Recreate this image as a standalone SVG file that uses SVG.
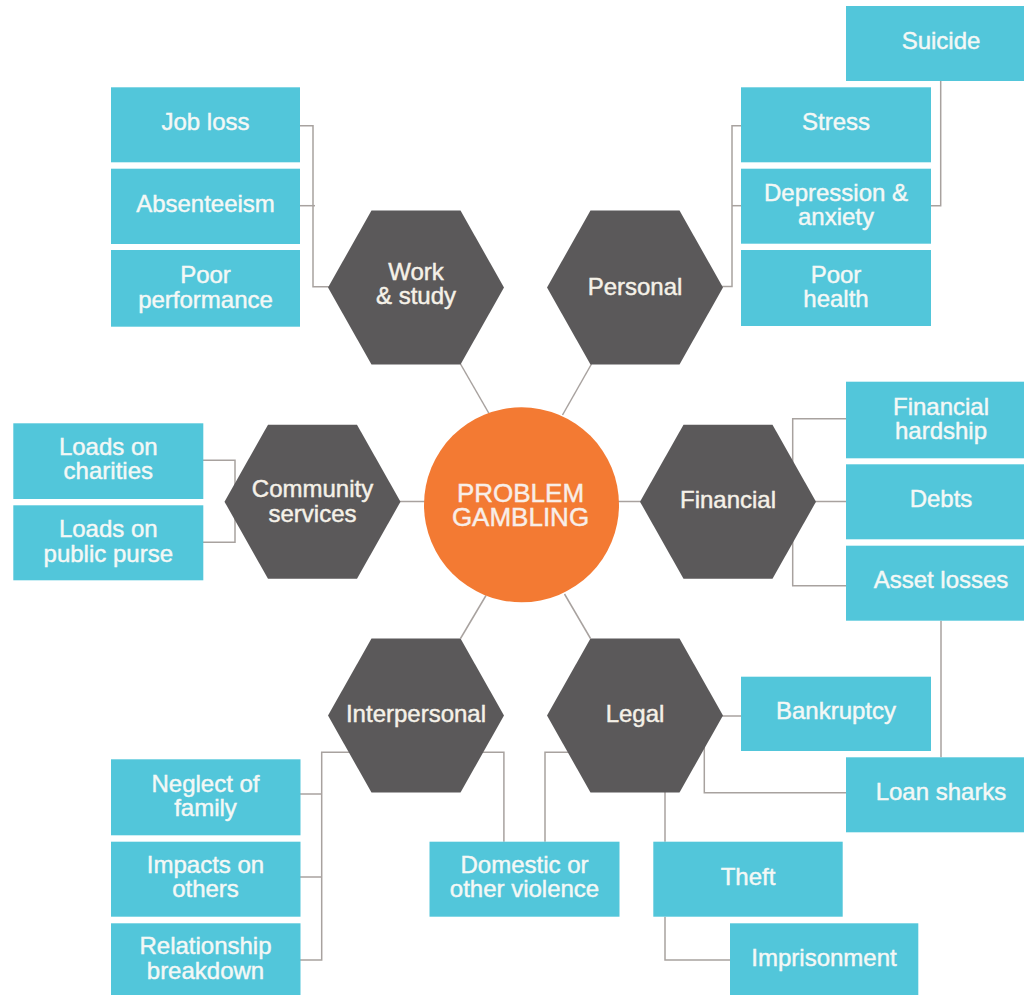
<svg xmlns="http://www.w3.org/2000/svg" width="1024" height="995" viewBox="0 0 1024 995">
<style>
.box{fill:#52C6DA}
.hex{fill:#5B595A}
.bt{font-family:"Liberation Sans",Arial,sans-serif;font-size:24px;fill:#F4F8F6;stroke:#F4F8F6;stroke-width:0.45;text-anchor:middle}
.ht{font-family:"Liberation Sans",Arial,sans-serif;font-size:24px;fill:#F5F1E8;stroke:#F5F1E8;stroke-width:0.45;text-anchor:middle}
.ct{font-family:"Liberation Sans",Arial,sans-serif;font-size:26px;fill:#F8EEE8;stroke:#F8EEE8;stroke-width:0.45;text-anchor:middle}
.con{fill:none;stroke:#A8A29F;stroke-width:1.5}
</style>
<rect width="1024" height="995" fill="#FFFFFF"/>
<g id="connectors" class="con">
<path d="M300,125.7 H313 V286.7 H330"/>
<path d="M300,205.7 H315"/>
<path d="M741,125.7 H732 V286.5 H721"/>
<path d="M741,205.7 H732"/>
<path d="M940.7,81 V205.7 H931"/>
<path d="M203,460.3 H235 V542.3 H203"/>
<path d="M399,501.5 H426"/>
<path d="M617,501.5 H642"/>
<path d="M846,418.7 H792.7 V585.7 H846"/>
<path d="M814,501.5 H846"/>
<path d="M941,620.7 V757.3"/>
<path d="M300,794 H321.7"/>
<path d="M300,877 H321.7"/>
<path d="M300,960 H321.7 V752.3 H352"/>
<path d="M480,752.3 H503.9 V841.7"/>
<path d="M545,841.7 V752.3 H570"/>
<path d="M721,716 H741"/>
<path d="M846,792.7 H704.3 V740"/>
<path d="M665,790 V841.7"/>
<path d="M665,916.7 V960 H730"/>
<path d="M460.5,364 L489,413.5"/>
<path d="M591.5,364 L562.5,415"/>
<path d="M460.5,638.5 L486,595.5"/>
<path d="M590.5,638.5 L564.5,594"/>
</g>
<g id="problem-gambling">
<circle cx="521.5" cy="504.8" r="97.5" fill="#F37A33"/>
<text class="ct" x="520.5" y="501.7">PROBLEM</text>
<text class="ct" x="520.5" y="525.7">GAMBLING</text>
</g>
<g id="work-study">
<polygon class="hex" points="328,287.5 371.5,210.5 460.5,210.5 504,287.5 460.5,364.5 371.5,364.5"/>
<text class="ht" x="416" y="280">Work</text>
<text class="ht" x="416" y="304">&amp; study</text>
</g>
<g id="personal">
<polygon class="hex" points="547,287.5 590.5,210.5 679.5,210.5 723,287.5 679.5,364.5 590.5,364.5"/>
<text class="ht" x="635" y="295">Personal</text>
</g>
<g id="community-services">
<polygon class="hex" points="224.5,501.7 268,424.7 357,424.7 400.5,501.7 357,578.7 268,578.7"/>
<text class="ht" x="312.5" y="497.3">Community</text>
<text class="ht" x="312.5" y="521.7">services</text>
</g>
<g id="financial">
<polygon class="hex" points="640,501.7 683.5,424.7 772.5,424.7 816,501.7 772.5,578.7 683.5,578.7"/>
<text class="ht" x="728" y="507.7">Financial</text>
</g>
<g id="interpersonal">
<polygon class="hex" points="328,715.5 371.5,638.5 460.5,638.5 504,715.5 460.5,792.5 371.5,792.5"/>
<text class="ht" x="416" y="722">Interpersonal</text>
</g>
<g id="legal">
<polygon class="hex" points="547,715.5 590.5,638.5 679.5,638.5 723,715.5 679.5,792.5 590.5,792.5"/>
<text class="ht" x="635" y="721.7">Legal</text>
</g>
<g id="job-loss"><rect class="box" x="111" y="87.3" width="189" height="75"/><text class="bt" x="205.5" y="130">Job loss</text></g>
<g id="absenteeism"><rect class="box" x="111" y="168.7" width="189" height="75.3"/><text class="bt" x="205.5" y="211.7">Absenteeism</text></g>
<g id="poor-performance"><rect class="box" x="111" y="250" width="189" height="76.7"/><text class="bt" x="205.5" y="282.7">Poor</text><text class="bt" x="205.5" y="307.7">performance</text></g>
<g id="suicide"><rect class="box" x="846" y="6" width="190" height="75"/><text class="bt" x="941" y="49.3">Suicide</text></g>
<g id="stress"><rect class="box" x="741" y="87.3" width="190" height="75"/><text class="bt" x="836" y="130">Stress</text></g>
<g id="depression-anxiety"><rect class="box" x="741" y="168.7" width="190" height="75"/><text class="bt" x="836" y="201">Depression &amp;</text><text class="bt" x="836" y="225">anxiety</text></g>
<g id="poor-health"><rect class="box" x="741" y="250" width="190" height="76"/><text class="bt" x="836" y="282.7">Poor</text><text class="bt" x="836" y="306.7">health</text></g>
<g id="loads-charities"><rect class="box" x="13.3" y="423.3" width="190" height="75.7"/><text class="bt" x="108.3" y="455">Loads on</text><text class="bt" x="108.3" y="479.3">charities</text></g>
<g id="loads-public-purse"><rect class="box" x="13.3" y="505.3" width="190" height="75"/><text class="bt" x="108.3" y="537.3">Loads on</text><text class="bt" x="108.3" y="561.7">public purse</text></g>
<g id="financial-hardship"><rect class="box" x="846" y="381.7" width="190" height="76.6"/><text class="bt" x="941" y="415">Financial</text><text class="bt" x="941" y="439.3">hardship</text></g>
<g id="debts"><rect class="box" x="846" y="464.3" width="190" height="75"/><text class="bt" x="941" y="506.7">Debts</text></g>
<g id="asset-losses"><rect class="box" x="846" y="545.7" width="190" height="75"/><text class="bt" x="941" y="588.3">Asset losses</text></g>
<g id="bankruptcy"><rect class="box" x="741" y="676.7" width="190" height="74.3"/><text class="bt" x="836" y="719">Bankruptcy</text></g>
<g id="loan-sharks"><rect class="box" x="846" y="757.3" width="190" height="75"/><text class="bt" x="941" y="800">Loan sharks</text></g>
<g id="neglect-family"><rect class="box" x="111" y="759.3" width="189.5" height="76"/><text class="bt" x="205.5" y="791.7">Neglect of</text><text class="bt" x="205.5" y="816">family</text></g>
<g id="impacts-others"><rect class="box" x="111" y="841.7" width="189.5" height="75"/><text class="bt" x="205.5" y="873.3">Impacts on</text><text class="bt" x="205.5" y="897.3">others</text></g>
<g id="relationship-breakdown"><rect class="box" x="111" y="923.3" width="189.5" height="76"/><text class="bt" x="205.5" y="954.3">Relationship</text><text class="bt" x="205.5" y="979.3">breakdown</text></g>
<g id="domestic-violence"><rect class="box" x="429.5" y="841.7" width="190" height="75"/><text class="bt" x="524.5" y="873.3">Domestic or</text><text class="bt" x="524.5" y="897.3">other violence</text></g>
<g id="theft"><rect class="box" x="653.3" y="841.7" width="189.4" height="75"/><text class="bt" x="748" y="885">Theft</text></g>
<g id="imprisonment"><rect class="box" x="730" y="923.3" width="188.3" height="76"/><text class="bt" x="824" y="965.7">Imprisonment</text></g>
</svg>
